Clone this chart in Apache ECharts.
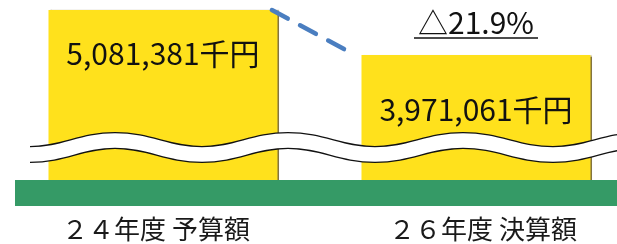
<!DOCTYPE html>
<html>
<head>
<meta charset="utf-8">
<script src="https://cdn.jsdelivr.net/npm/echarts@6/dist/echarts.min.js"></script>
<style>
  html, body { margin: 0; padding: 0; background: #fff; }
  #chart { width: 617px; height: 244px; }
</style>
</head>
<body>
<div id="chart"></div>
<script>
// 予算額と決算額
var categories = ['２４年度 予算額', '２６年度 決算額'];
var amounts = [5081381, 3971061];
var unit = '千円';

var font = '"Noto Sans CJK JP", "Noto Sans", sans-serif';

function fmt(v) {
	return String(v).replace(/\B(?=(\d{3})+(?!\d))/g, ',');
}

// 増減率
var rate = (amounts[1] - amounts[0]) / amounts[0] * 100;
var rateText = (rate < 0 ? '△' : '') + Math.abs(rate).toFixed(1) + '%';

// 波線（省略記号）をベジェ曲線でつなぐ
function waveSegments(offset, color, width, z) {
	var pts = [[30,147],[115,133],[202,147],[288,133],[375,147],[463,133],[553,147],[640,133]];
	var arr = [];
	for (var i = 1; i < pts.length; i++) {
		var x0 = pts[i-1][0], y0 = pts[i-1][1] + offset;
		var x1 = pts[i][0], y1 = pts[i][1] + offset;
		var k = (x1 - x0) * 0.4;
		arr.push({
			type: 'bezierCurve', z: z,
			shape: { x1: x0, y1: y0, x2: x1, y2: y1, cpx1: x0 + k, cpy1: y0, cpx2: x1 - k, cpy2: y1 },
			style: { fill: null, stroke: color, lineWidth: width, lineCap: 'butt' }
		});
	}
	return arr;
}

var chart = echarts.init(document.getElementById('chart'));

var option = {
	animation: false,
	grid: { left: 15, right: 0, top: 10, bottom: 63 },
	xAxis: [
		{
			// 棒の位置用（0, 1 が各棒の中心）
			type: 'value', min: -0.4728, max: 1.4505, show: false
		},
		{
			// 項目名の表示用
			type: 'category',
			data: categories.map(function (c, i) {
				return { value: c, textStyle: { padding: i === 0 ? [0, 19, 0, 0] : [0, 0, 0, 33] } };
			}),
			position: 'bottom',
			axisLine: { show: false },
			axisTick: { show: false },
			splitLine: { show: false },
			axisLabel: { margin: 35, fontSize: 26, color: '#1a1a1a', fontFamily: font }
		}
	],
	yAxis: { type: 'value', min: 860000, max: amounts[0], show: false },
	series: [
		{
			type: 'bar',
			barWidth: 229,
			data: amounts.map(function (v, i) {
				return { value: [i, v], label: { distance: i === 0 ? 29 : 40 } };
			}),
			itemStyle: {
				color: '#FFE11C',
				shadowColor: 'rgba(90,70,0,0.75)',
				shadowOffsetX: 2,
				shadowBlur: 1
			},
			label: {
				show: true,
				position: 'insideTop',
				fontSize: 30,
				color: '#111',
				fontFamily: font,
				formatter: function (p) { return fmt(p.value[1]) + unit; }
			},
			z: 2
		},
		{
			type: 'line',
			clip: false,
			symbol: 'none',
			data: [[0.348, amounts[0]], [0.613, amounts[1]]],
			lineStyle: { color: '#4A7EC0', width: 4.5, type: [18, 14], cap: 'round' },
			z: 3
		}
	],
	graphic: waveSegments(7.5, '#111', 17, 10)
		.concat(waveSegments(7.5, '#fff', 14.5, 11))
		.concat([
			{ type: 'rect', z: 12, shape: { x: 15, y: 180, width: 610, height: 26 },
			  style: { fill: '#359A66' } },
			{ type: 'text', z: 12, x: 476, y: 23,
			  style: { text: rateText, fill: '#111', font: '30px ' + font,
			           textAlign: 'center', textVerticalAlign: 'middle' } },
			{ type: 'line', z: 12, shape: { x1: 414, y1: 38, x2: 538, y2: 38 },
			  style: { stroke: '#111', lineWidth: 1.5 } }
		])
};

chart.setOption(option);
</script>
</body>
</html>
